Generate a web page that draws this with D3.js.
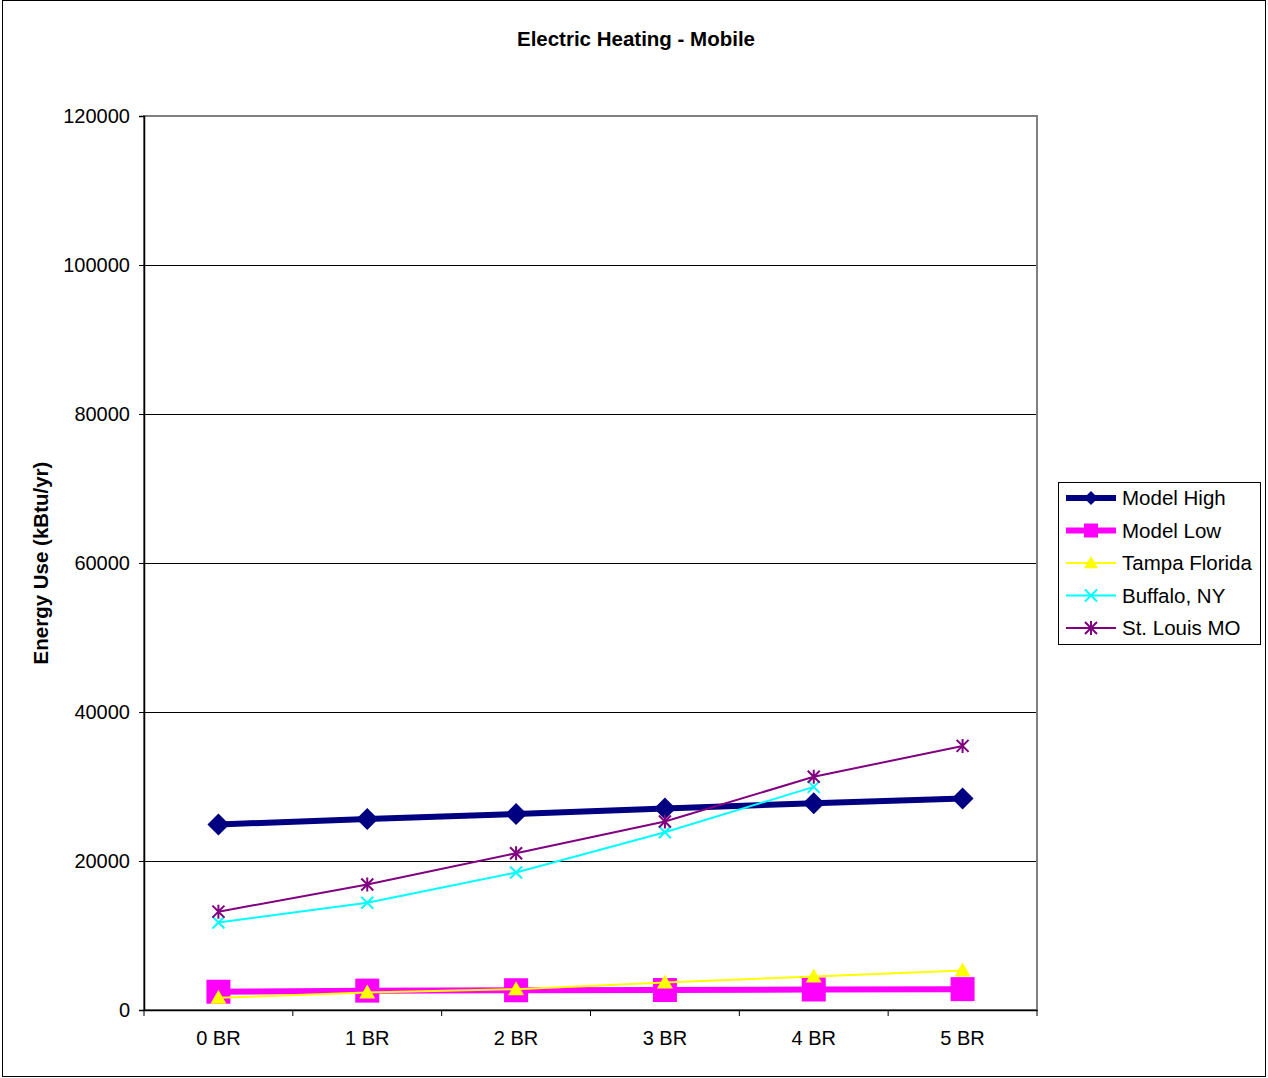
<!DOCTYPE html>
<html><head><meta charset="utf-8">
<script src="https://cdn.jsdelivr.net/npm/d3@7"></script>
<style>body{margin:0;background:#fff}svg{display:block;font-family:Arial,"Liberation Sans",sans-serif}</style>
</head><body>
<script>
const categories = ["0 BR","1 BR","2 BR","3 BR","4 BR","5 BR"];
const modelHigh = [24900, 25650, 26300, 27050, 27750, 28400];
const modelLow = [2450, 2600, 2650, 2680, 2750, 2800];
const tampa = [1650, 2350, 2800, 3700, 4500, 5300];
const buffalo = [11750, 14400, 18450, 23850, 29950, null];
const stLouis = [13200, 16850, 21050, 25300, 31300, 35450];
const yTicks = [0, 20000, 40000, 60000, 80000, 100000, 120000];

const series = [
  {name:"Model High", values:modelHigh, color:"#000080", width:6, marker:"diamond", size:11},
  {name:"Model Low", values:modelLow, color:"#FF00FF", width:6, marker:"square", size:12},
  {name:"Tampa Florida", values:tampa, color:"#FFFF00", width:2, marker:"triangle", size:8},
  {name:"Buffalo, NY", values:buffalo, color:"#00FFFF", width:2, marker:"x", size:6},
  {name:"St. Louis MO", values:stLouis, color:"#800080", width:2, marker:"star", size:6}
];

const W = 1268, H = 1078;
const svg = d3.select("body").append("svg").attr("width", W).attr("height", H);
svg.append("rect").attr("x",2.5).attr("y",0.5).attr("width",1263).attr("height",1076).attr("fill","#fff").attr("stroke","#000").attr("stroke-width",1);

const L = 144, T = 116, R = 1037, B = 1010;
const x = d3.scaleBand().domain(categories).range([L, R]);
const y = d3.scaleLinear().domain([0, 120000]).range([B, T]);

// gridlines
svg.append("g").selectAll("line").data(yTicks.filter(d=>d>0)).join("line")
  .attr("x1", L).attr("x2", R).attr("y1", d=>y(d)+0.5).attr("y2", d=>y(d)+0.5)
  .attr("stroke","#000").attr("stroke-width",1);
// plot border
svg.append("rect").attr("x",L).attr("y",T).attr("width",R-L).attr("height",B-T)
  .attr("fill","none").attr("stroke","#808080").attr("stroke-width",2);

// axes
const yAxis = d3.axisLeft(y).tickValues(yTicks).tickSize(5).tickPadding(9).tickFormat(d3.format("d"));
const gy = svg.append("g").attr("transform",`translate(${L},0)`).call(yAxis);
gy.select(".domain").attr("stroke","#000").attr("stroke-width",1.5);
gy.selectAll(".tick line").attr("stroke","#000");
gy.selectAll("text").attr("font-size",20).attr("fill","#000").attr("font-family","Arial, 'Liberation Sans', sans-serif");

const xAxis = d3.axisBottom(x).tickSize(0).tickPadding(21);
const gx = svg.append("g").attr("transform",`translate(0,${B})`).call(xAxis);
gx.select(".domain").attr("stroke","#000").attr("stroke-width",1.5);
gx.selectAll("text").attr("font-size",20).attr("fill","#000").attr("font-family","Arial, 'Liberation Sans', sans-serif");
// category boundary ticks
const bounds = categories.map(c=>x(c)).concat([R]);
gx.append("g").selectAll("line").data(bounds).join("line")
  .attr("x1",d=>d).attr("x2",d=>d).attr("y1",0).attr("y2",6).attr("stroke","#000");

// title & axis label
svg.append("text").attr("x",636).attr("y",46).attr("text-anchor","middle")
  .attr("font-size",20.5).attr("font-weight","bold").text("Electric Heating - Mobile");
svg.append("text").attr("transform",`translate(48,${(T+B)/2}) rotate(-90)`).attr("text-anchor","middle")
  .attr("font-size",20.5).attr("font-weight","bold").text("Energy Use (kBtu/yr)");

function drawMarker(g, type, cx, cy, s, color){
  if(type==="diamond"){
    g.append("path").attr("d",`M${cx},${cy-s}L${cx+s},${cy}L${cx},${cy+s}L${cx-s},${cy}Z`).attr("fill",color);
  } else if(type==="square"){
    g.append("rect").attr("x",cx-s).attr("y",cy-s).attr("width",2*s).attr("height",2*s).attr("fill",color);
  } else if(type==="triangle"){
    g.append("path").attr("d",`M${cx},${cy-s}L${cx+s},${cy+s*0.75}L${cx-s},${cy+s*0.75}Z`).attr("fill",color);
  } else if(type==="x"){
    g.append("path").attr("d",`M${cx-s},${cy-s}L${cx+s},${cy+s}M${cx-s},${cy+s}L${cx+s},${cy-s}`).attr("stroke",color).attr("stroke-width",2).attr("fill","none");
  } else if(type==="star"){
    g.append("path").attr("d",`M${cx-s},${cy-s}L${cx+s},${cy+s}M${cx-s},${cy+s}L${cx+s},${cy-s}M${cx},${cy-s-1}L${cx},${cy+s+1}`).attr("stroke",color).attr("stroke-width",2).attr("fill","none");
  }
}

const line = d3.line().defined(d=>d.v!=null).x(d=>x(d.c)+x.bandwidth()/2).y(d=>y(d.v));
series.forEach(s=>{
  const pts = categories.map((c,i)=>({c, v:s.values[i]}));
  const g = svg.append("g");
  g.append("path").datum(pts).attr("d",line).attr("fill","none").attr("stroke",s.color).attr("stroke-width",s.width).attr("stroke-linejoin","round");
  pts.filter(p=>p.v!=null).forEach(p=>drawMarker(g, s.marker, x(p.c)+x.bandwidth()/2, y(p.v), s.size, s.color));
});

// legend
const lg = svg.append("g");
lg.append("rect").attr("x",1058.5).attr("y",482.5).attr("width",202).attr("height",162).attr("fill","#fff").attr("stroke","#000").attr("stroke-width",1);
const legendSizes = {diamond:7, square:7, triangle:7, x:6, star:6};
series.forEach((s,i)=>{
  const ly = 498 + i*32.5;
  lg.append("line").attr("x1",1066).attr("x2",1116).attr("y1",ly).attr("y2",ly).attr("stroke",s.color).attr("stroke-width",s.width);
  drawMarker(lg, s.marker, 1091, ly, legendSizes[s.marker], s.color);
  lg.append("text").attr("x",1122).attr("y",ly+7).attr("font-size",20.5).attr("fill","#000").text(s.name);
});
</script>
</body></html>
